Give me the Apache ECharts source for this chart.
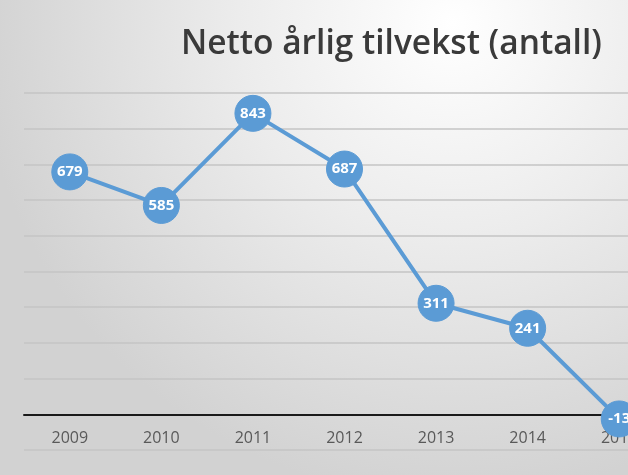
<!DOCTYPE html>
<html><head><meta charset="utf-8">
<script src="https://cdn.jsdelivr.net/npm/echarts@6/dist/echarts.min.js"></script>
<style>html,body{margin:0;padding:0;overflow:hidden;}#c{width:628px;height:475px;}</style>
</head><body><div id="c"></div>
<script>
const categories = ['2009','2010','2011','2012','2013','2014','2015'];
const values = [679, 585, 843, 687, 311, 241, -13];
const titleText = 'Netto årlig tilvekst (antall)';

const chart = echarts.init(document.getElementById('c'), null, {renderer:'canvas'});
chart.setOption({
  animation:false,
  backgroundColor:{type:'radial', x:0.72, y:0.05, r:1.0, colorStops:[
    {offset:0,color:'#ffffff'},{offset:0.45,color:'#ececec'},{offset:1,color:'#d2d2d2'}]},
  title:{text:titleText, left:176, top:22,
    textStyle:{fontFamily:'Open Sans', fontWeight:600, fontSize:33.5, color:'#3a3a3a'}},
  grid:{left:24, right:-37, top:93, bottom:25, containLabel:false, outerBoundsMode:'none'},
  xAxis:{type:'category', data:categories, boundaryGap:true,
    axisLine:{onZero:true, lineStyle:{color:'#1a1a1a', width:2}},
    axisTick:{show:false},
    axisLabel:{color:'#595959', fontSize:16, fontFamily:'Open Sans', margin:-20},
    splitLine:{show:false}},
  yAxis:{type:'value', min:-100, max:900, interval:100,
    axisLabel:{show:false}, axisLine:{show:false}, axisTick:{show:false},
    splitLine:{lineStyle:{color:'#c4c4c4', width:1.5}}},
  series:[{type:'line', data:values,
    lineStyle:{color:'#5b9bd5', width:4},
    itemStyle:{color:'#5b9bd5', borderColor:'#5b9bd5'},
    symbol:'circle', symbolSize:36,
    label:{show:true, position:'inside', color:'#ffffff', fontSize:15, fontWeight:'bold', fontFamily:'Open Sans'},
    z:5}]
});
</script></body></html>
